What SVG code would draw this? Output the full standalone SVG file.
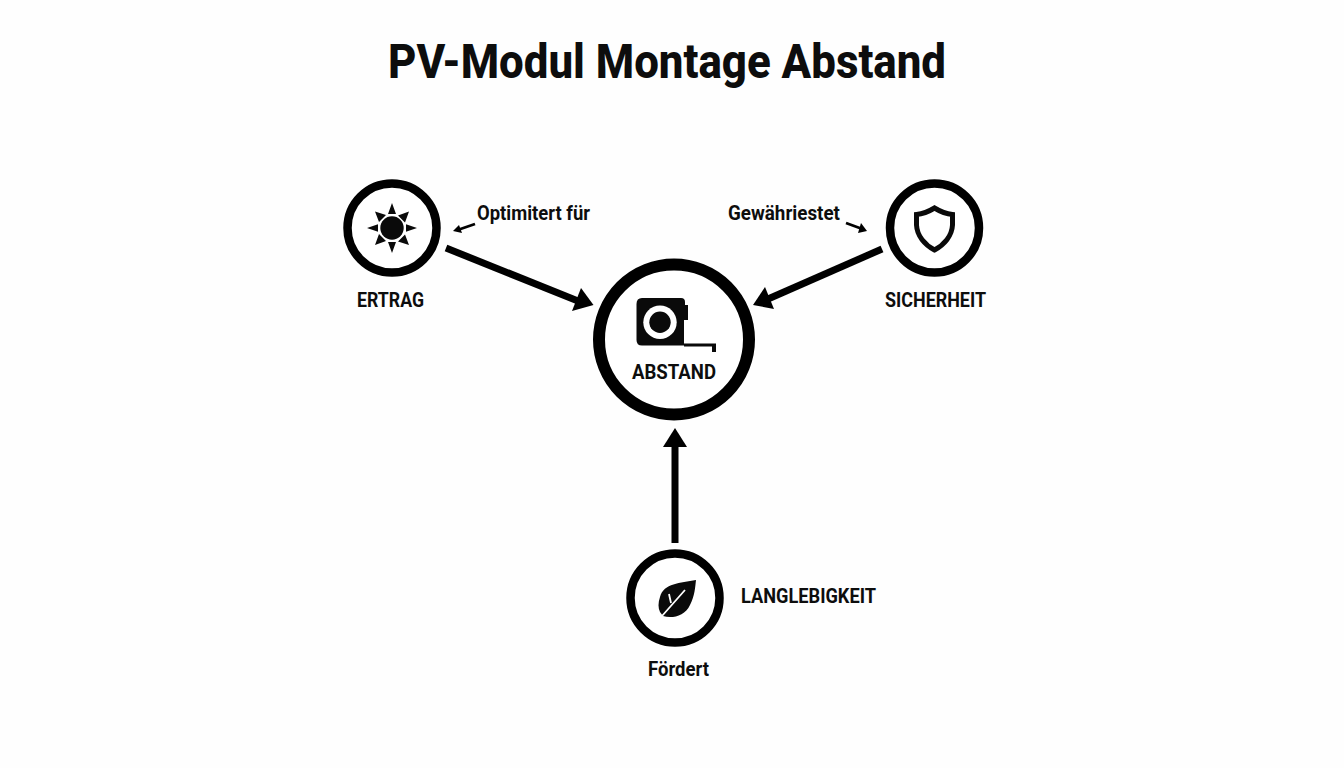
<svg xmlns="http://www.w3.org/2000/svg" width="1344" height="768" viewBox="0 0 1344 768">
<style>
text{font-family:Roboto,"Liberation Sans",sans-serif;fill:#0d0d0d;font-weight:700;text-anchor:middle}
.t{font-size:49px;font-weight:800}
.l{font-size:21px}
.ring{fill:#fff;stroke:#000;stroke-width:8.5}
.c{stroke:#000;fill:none;stroke-linecap:butt}
.h{fill:#000;stroke:none}
.i{fill:#0a0a0a}
</style>
<rect width="1344" height="768" fill="#fefefe"/>
<text id="title" class="t" x="667" y="78" textLength="558" lengthAdjust="spacingAndGlyphs">PV-Modul Montage Abstand</text>
<g id="connectors">
<path class="c" stroke-width="7" d="M446 248 L578 301"/><path class="h" d="M593.500 305 L581 288 L572 311 Z"/>
<path class="c" stroke-width="7" d="M882 249 L768 299"/><path class="h" d="M753 305 L765 287 L774 309 Z"/>
<path class="c" stroke-width="7" d="M675 543 L675 446"/><path class="h" d="M675 428 L687 447 L663 447 Z"/>
<path class="c" stroke-width="2.800" d="M475 224 L459 229.500"/><path class="h" d="M453 231 L459 225 L462 233 Z"/>
<path class="c" stroke-width="2.800" d="M846 223 L861 228.500"/><path class="h" d="M867 231 L861 223 L858 233 Z"/>
</g>
<g id="node-ertrag">
<circle class="ring" cx="392" cy="228" r="44.500"/>
<circle class="i" cx="392" cy="228" r="11.700"/>
<path class="i" d="M392 203l4 11h-8zM392 253l4-11h-8zM367 228l11-3.800v7.600zM417 228l-11-3.800v7.600zM375 211.500l11 3.500-7 7zM409 211.500l-4 11-7-7zM375 245l4-11 7 7zM409 245l-11-3.500 7-7z"/>
<text class="l" x="390.500" y="307" textLength="67" lengthAdjust="spacingAndGlyphs">ERTRAG</text>
</g>
<text id="label-optimiert" class="l" x="533.500" y="220" textLength="113" lengthAdjust="spacingAndGlyphs">Optimitert für</text>
<g id="node-sicherheit">
<circle class="ring" cx="934.500" cy="228" r="44.500"/>
<path fill="none" stroke="#0a0a0a" stroke-width="5" d="M934.500 208 C928 212 922 214 916.500 214.500 L916.500 225 C917 236 925 245 934.500 250 C944 245 952 236 952.500 225 L952.500 214.500 C947 214 941 212 934.500 208 Z"/>
<text class="l" x="935.500" y="307" textLength="101" lengthAdjust="spacingAndGlyphs">SICHERHEIT</text>
</g>
<text id="label-gewaehrleistet" class="l" x="784" y="220" textLength="112" lengthAdjust="spacingAndGlyphs">Gewähriestet</text>
<g id="node-abstand">
<circle cx="674" cy="339.500" r="75" fill="#fff" stroke="#000" stroke-width="12"/>
<path class="i" d="M642 298 H681 Q685 298 685 302 V305 H688 V320 H684 V345.500 H642 Q636.500 345.500 636.500 340 V304 Q636.500 298 642 298 Z"/>
<circle cx="660" cy="322.300" r="16.700" fill="#fff"/>
<circle class="i" cx="660" cy="322.300" r="10.700"/>
<path class="i" d="M684 343.500 H716 V352 H712 V346.500 H684 Z"/>
<text class="l" x="674" y="379" textLength="84" lengthAdjust="spacingAndGlyphs">ABSTAND</text>
</g>
<g id="node-langlebigkeit">
<circle class="ring" cx="675" cy="598" r="44.500"/>
<path class="i" d="M696 580 C680 583 664 583 660 597 C658 603 658 608 660 612 L663 616 C672 619 685 616 690 605 C695 595 695 588 696 580 Z"/>
<path fill="none" stroke="#fff" stroke-width="1.800" d="M685 590 L662 616 M669 594 L671 603"/>
<text class="l" x="808.500" y="603" textLength="135" lengthAdjust="spacingAndGlyphs">LANGLEBIGKEIT</text>
</g>
<text id="label-foerdert" class="l" x="678.500" y="676" textLength="61" lengthAdjust="spacingAndGlyphs">Fördert</text>
</svg>
